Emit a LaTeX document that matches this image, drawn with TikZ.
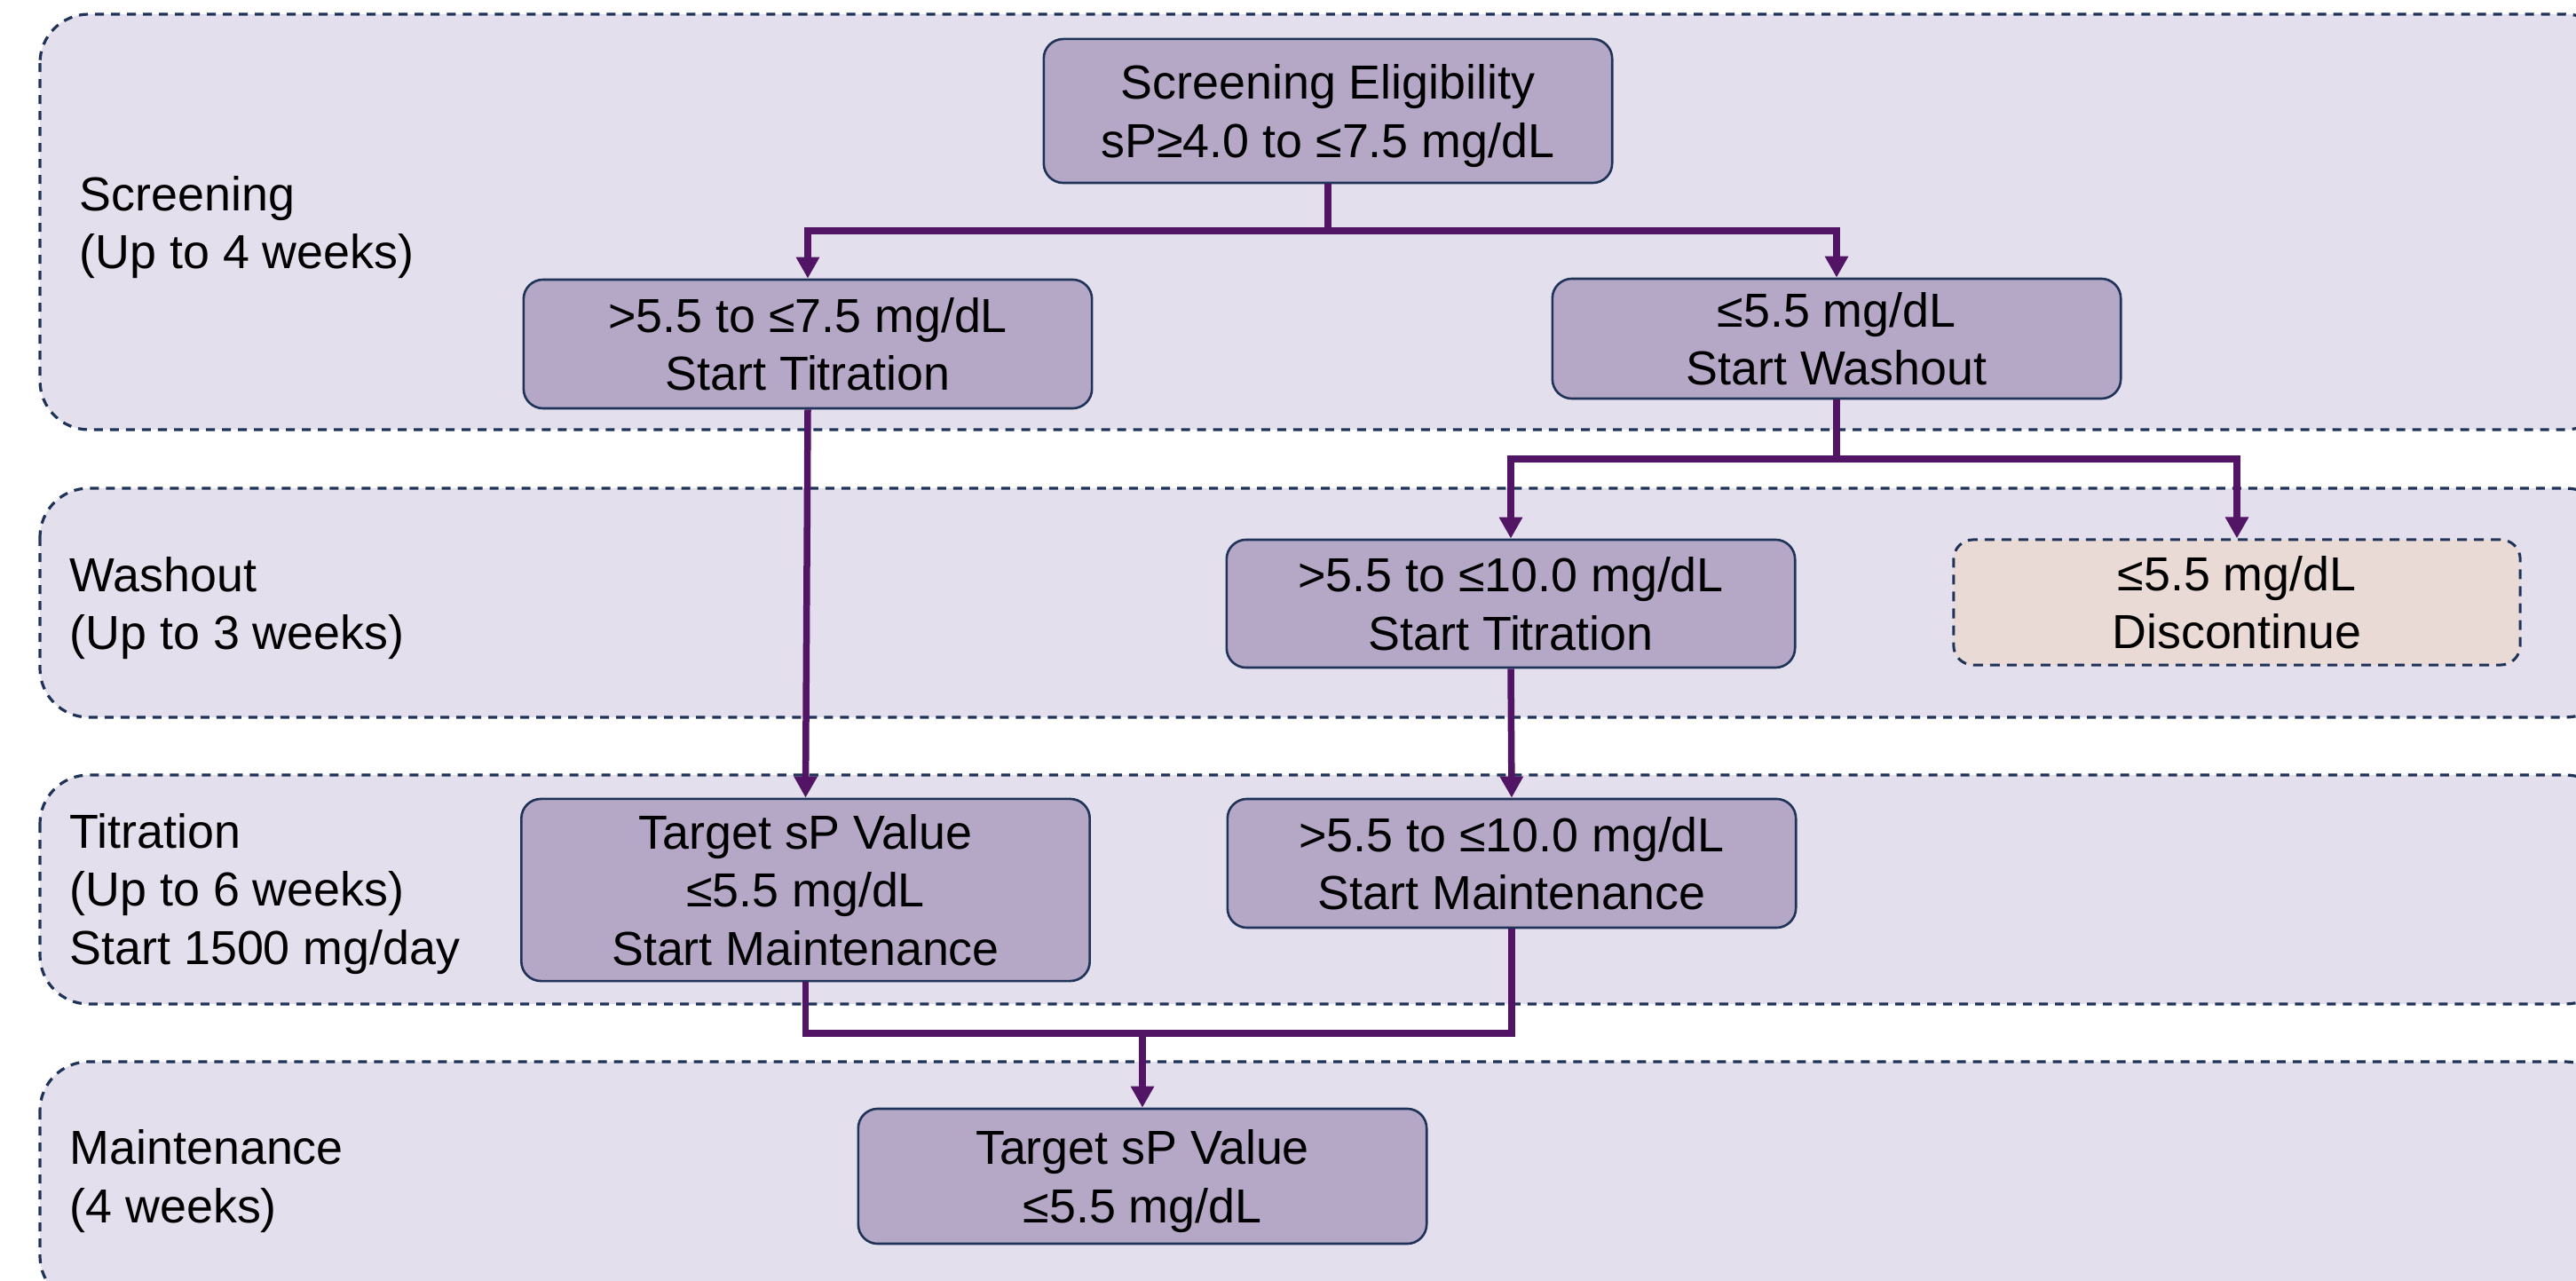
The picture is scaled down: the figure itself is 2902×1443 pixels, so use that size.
\documentclass[tikz,border=0pt]{standalone}
\usepackage{fontspec}
\setmainfont{Liberation Sans}
\usetikzlibrary{arrows.meta}
\definecolor{bandfill}{HTML}{E4DFEC}
\definecolor{navy}{HTML}{1F3358}
\definecolor{boxfill}{HTML}{B5A7C6}
\definecolor{discfill}{HTML}{E9DAD6}
\definecolor{connc}{HTML}{521464}
\tikzset{
  band/.style={fill=bandfill, draw=navy, line width=0.032cm, dash pattern=on 0.1cm off 0.08cm, rounded corners=0.55cm},
  stepbox/.style={rectangle, rounded corners=0.22cm, fill=boxfill, draw=navy, line width=0.026cm,
    minimum width=6.4cm, inner sep=0pt, align=center, text depth=0pt,
    font=\fontsize{15.3pt}{18.5pt}\selectfont},
  discbox/.style={stepbox, fill=discfill, dash pattern=on 0.11cm off 0.08cm, line width=0.03cm},
  phase/.style={anchor=west, inner sep=0pt, align=left, text depth=0pt,
    font=\fontsize{15.3pt}{18.5pt}\selectfont},
  conn/.style={draw=connc, line width=0.075cm},
  arr/.style={conn, -{Triangle[width=0.25cm,length=0.24cm]}}
}
\begin{document}
\begin{tikzpicture}[x=0.01cm,y=-0.01cm]
\useasboundingbox (0,0) rectangle (2902,1443);
\clip (0,0) rectangle (2902,1443);
% phase bands
\draw[band] (45,16) rectangle (2945,484);
\draw[band] (45,550) rectangle (2945,808);
\draw[band] (45,873) rectangle (2945,1131);
\draw[band] (45,1196) rectangle (2945,1470);
% phase labels
\node[phase] (lscr) at (89,250.5) {Screening\\(Up to 4 weeks)};
\node[phase] (lwash) at (78,679.5) {Washout\\(Up to 3 weeks)};
\node[phase] (ltit) at (78,1001.5) {Titration\\(Up to 6 weeks)\\Start 1500 mg/day};
\node[phase] (lmain) at (78,1325) {Maintenance\\(4 weeks)};
% boxes
\node[stepbox, minimum height=1.62cm] (scr) at (1496,125) {Screening Eligibility\\sP≥4.0 to ≤7.5 mg/dL};
\node[stepbox, minimum height=1.45cm] (t1) at (910,387.5) {>5.5 to ≤7.5 mg/dL\\Start Titration};
\node[stepbox, minimum height=1.35cm] (w1) at (2069,381.5) {≤5.5 mg/dL\\Start Washout};
\node[stepbox, minimum height=1.44cm] (w2) at (1702,680) {>5.5 to ≤10.0 mg/dL\\Start Titration};
\node[discbox, minimum height=1.41cm, minimum width=6.38cm] (dc) at (2520,678.5) {≤5.5 mg/dL\\Discontinue};
\node[stepbox, minimum height=2.05cm] (tm) at (907.5,1002.5) {Target sP Value\\≤5.5 mg/dL\\Start Maintenance};
\node[stepbox, minimum height=1.45cm] (t2) at (1703,972.5) {>5.5 to ≤10.0 mg/dL\\Start Maintenance};
\node[stepbox, minimum height=1.52cm] (mt) at (1287,1325) {Target sP Value\\≤5.5 mg/dL};
% connectors
\coordinate (j1) at (1496,260);
\draw[conn] (scr.south) -- (j1);
\draw[arr] (j1) -| (t1.north);
\draw[arr] (j1) -| (w1.north);
\draw[arr] (t1.south) -- (tm.north);
\coordinate (j2) at (2069,517);
\draw[conn] (w1.south) -- (j2);
\draw[arr] (j2) -| (w2.north);
\draw[arr] (j2) -| (dc.north);
\draw[arr] (w2.south) -- (t2.north);
\coordinate (j3) at (1287,1164);
\draw[conn] (tm.south) |- (j3);
\draw[conn] (t2.south) |- (j3);
\draw[arr] (j3) -- (mt.north);
\end{tikzpicture}
\end{document}
